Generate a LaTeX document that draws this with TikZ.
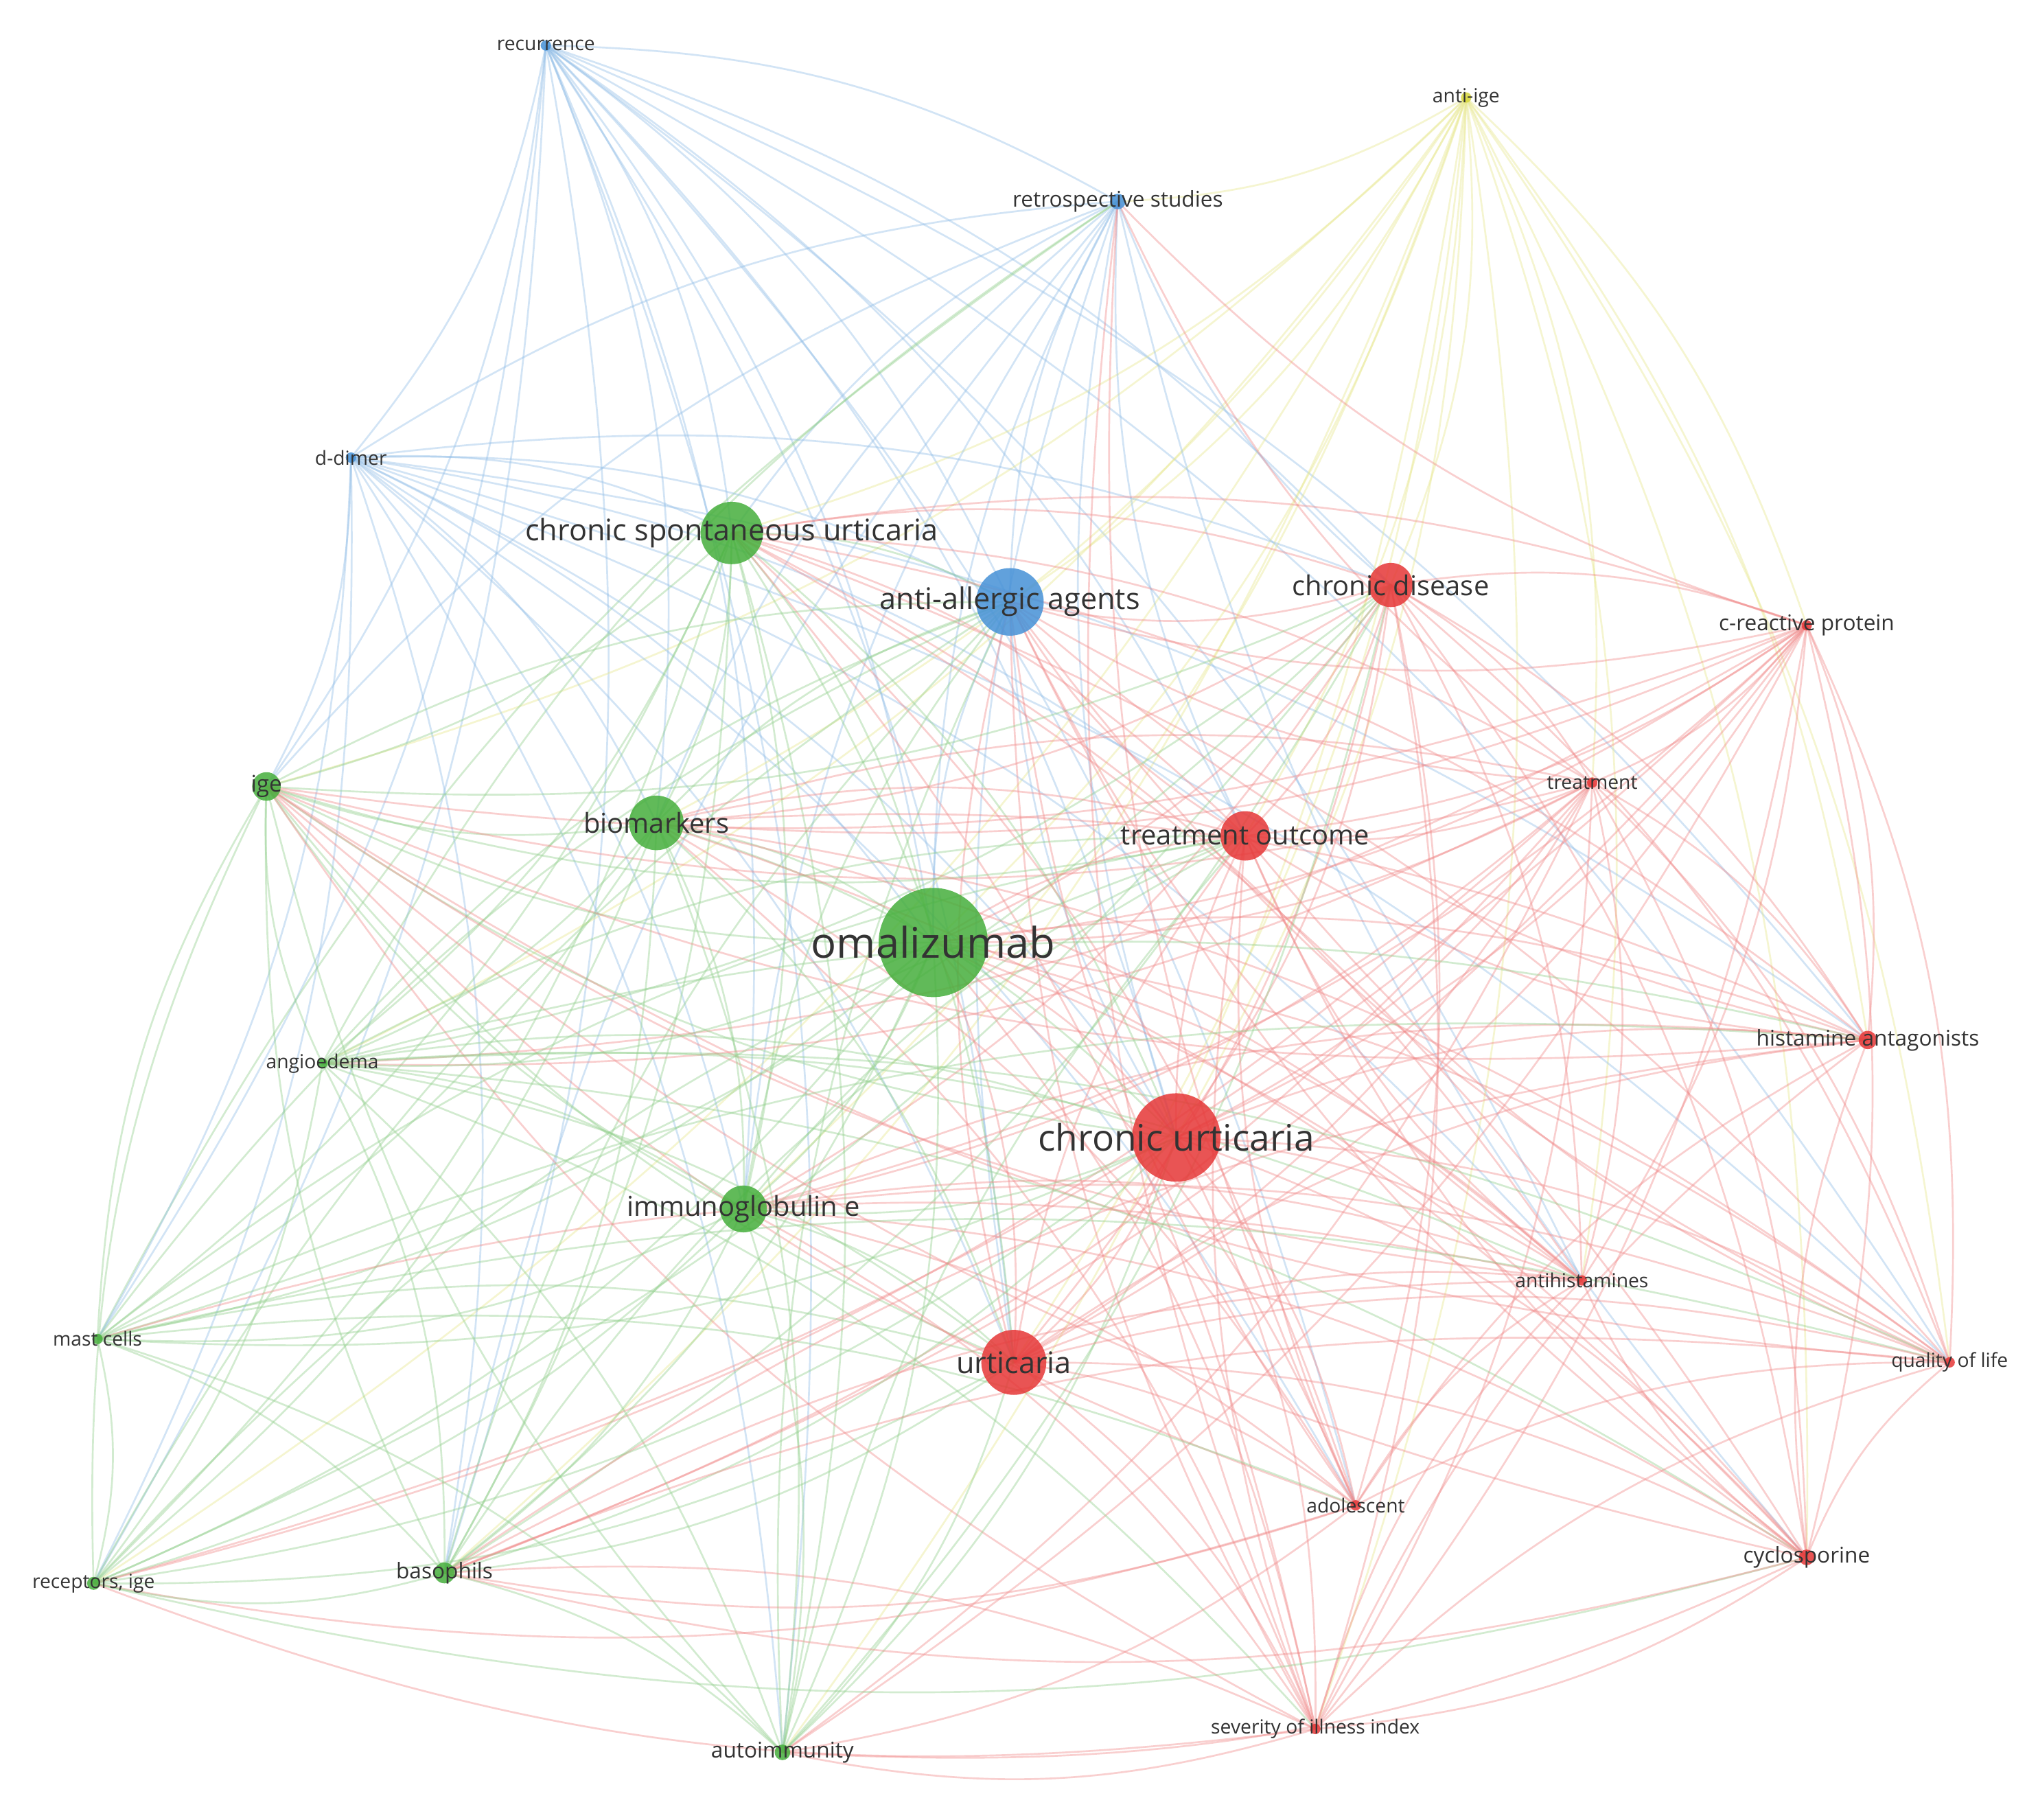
\documentclass[tikz,border=0pt]{standalone}
\usepackage{fontspec}
\setmainfont{Open Sans}
\begin{document}
\begin{tikzpicture}[x=0.02cm,y=-0.02cm,
  lab/.style={text=black!80,inner sep=0pt},
  dot/.style={circle,inner sep=0pt,fill opacity=.85}]
\definecolor{cg}{RGB}{70,175,60}
\definecolor{cr}{RGB}{230,55,55}
\definecolor{cb}{RGB}{70,145,215}
\definecolor{cy}{RGB}{215,215,60}
\fill[white] (0,0) rectangle (1568,1400);
\useasboundingbox (0,0) rectangle (1568,1400);
\def\nodelist{1/420/35/cb/4/8.5/recurrence,
2/1128/75/cy/4/8.5/anti-ige,
3/860/155/cb/6/9.5/retrospective studies,
4/270/352/cb/4/8.5/d-dimer,
5/563/410/cg/24/13/chronic spontaneous urticaria,
6/777/463/cb/26/13/anti-allergic agents,
7/1070/450/cr/17/12/chronic disease,
8/1390/481/cr/4/9.5/c-reactive protein,
9/205/605/cg/11/10/ige,
10/505/633/cg/21/12/biomarkers,
11/1225/602/cr/4/8.5/treatment,
12/958/643/cr/19/12/treatment outcome,
13/718/725/cg/42/18.5/omalizumab,
14/248/818/cg/4/8.5/angioedema,
15/1437/800/cr/7/9.5/histamine antagonists,
16/905/875/cr/34/16/chronic urticaria,
17/572/930/cg/18/12/immunoglobulin e,
18/1217/985/cr/4/8.5/antihistamines,
19/75/1030/cg/4/8.5/mast cells,
20/780/1048/cr/25/13/urticaria,
21/1500/1048/cr/4/8.5/quality of life,
22/1043/1158/cr/4/8.5/adolescent,
23/1390/1198/cr/6/9.5/cyclosporine,
24/72/1218/cg/5/8.5/{receptors, ige},
25/342/1210/cg/8/9.5/basophils,
26/1012/1330/cr/4/8.5/severity of illness index,
27/602/1348/cg/6/9.5/autoimmunity}
\foreach \i/\x/\y/\c/\r/\f/\t in \nodelist {
  \coordinate (n\i) at (\x,\y);
  \expandafter\xdef\csname col\i\endcsname{\c}
  \expandafter\xdef\csname rad\i\endcsname{\r}
}
\foreach \i in {1,...,26}{
  \pgfmathtruncatemacro\s{\i+1}
  \foreach \j in {\s,...,27}{
    \pgfmathtruncatemacro\bb{mod(\i*7+\j*3,3)==0 ? -14 : 14}
    \pgfmathtruncatemacro\ri{\csname rad\i\endcsname}
    \pgfmathtruncatemacro\rj{\csname rad\j\endcsname}
    \pgfmathtruncatemacro\skip{(\ri<8 && \rj<8 && mod(\i+\j,3)==0) ? 1 : 0}
    \ifnum\skip=0
      \ifnum\ri>\rj
        \edef\ec{\csname col\j\endcsname}
      \else
        \edef\ec{\csname col\i\endcsname}
      \fi
      \draw[\ec!60!white, opacity=.4, line width=0.8pt]
        (n\i) to[bend left=\bb] (n\j);
    \fi
  }
}
\foreach \i/\x/\y/\c/\r/\f/\t in \nodelist {
  \node[dot,fill=\c,minimum size=2*\r*0.02cm] (d\i) at (n\i) {};
}
\foreach \i/\x/\y/\c/\r/\f/\t in \nodelist {
  \node[lab,font=\fontsize{\f pt}{\f pt}\selectfont] (l\i) at (n\i) {\t};
}
\end{tikzpicture}
\end{document}
